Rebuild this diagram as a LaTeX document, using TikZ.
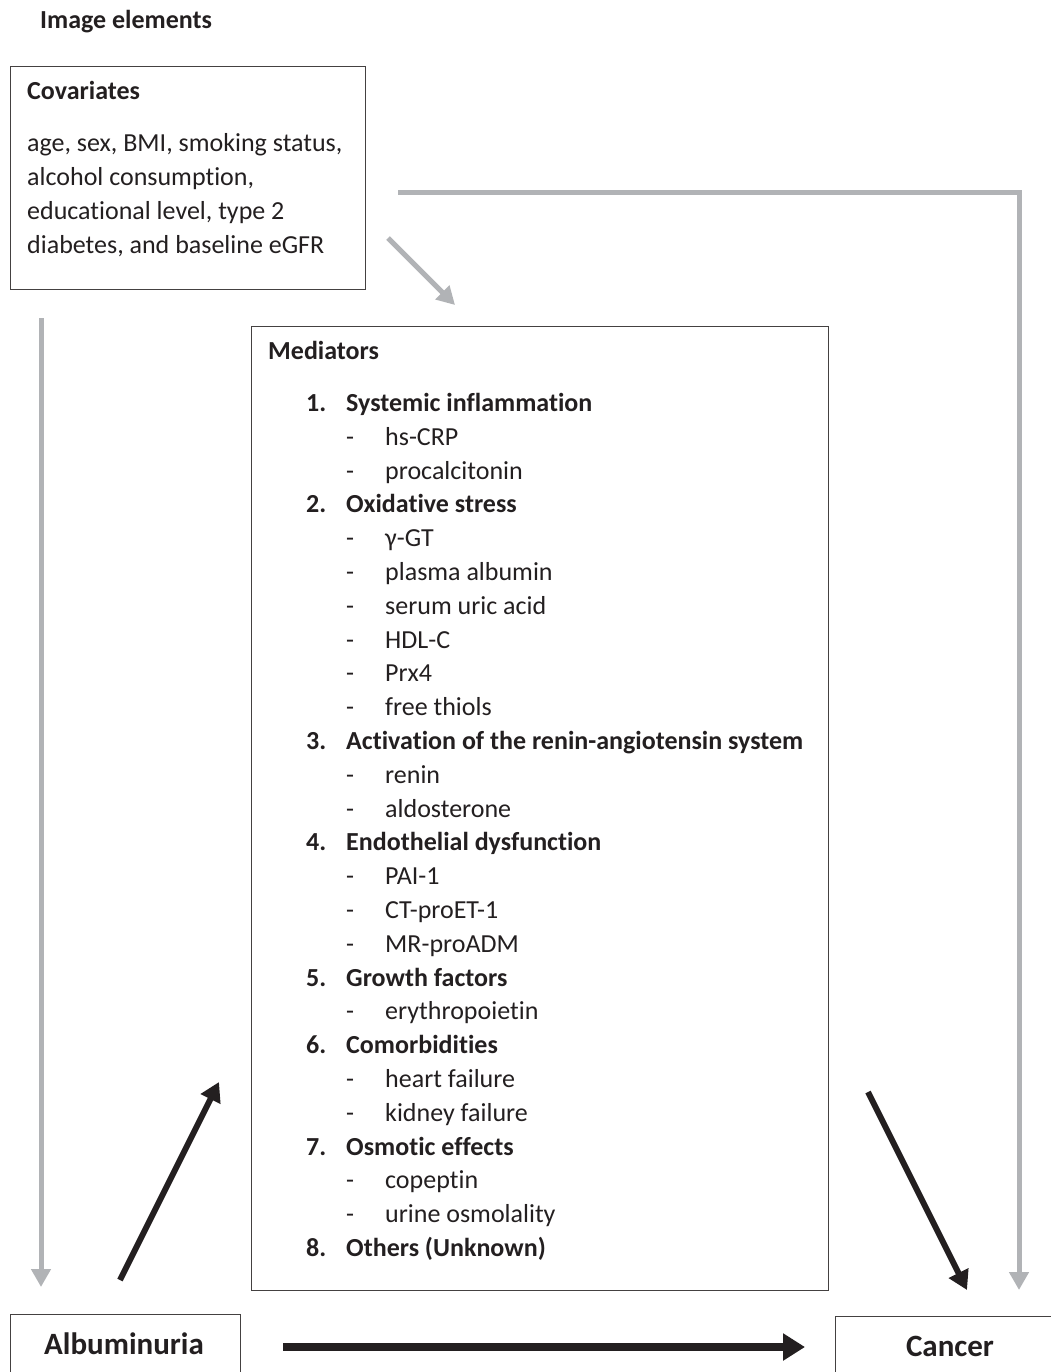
\documentclass[tikz,border=0pt]{standalone}
\usepackage{fontspec}
\setmainfont{Carlito}[Ligatures={NoCommon}]
\usetikzlibrary{arrows.meta,positioning}
\definecolor{arrowgray}{HTML}{B1B3B6}
\definecolor{arrowblack}{HTML}{231F20}
\tikzset{
   panel/.style={draw=arrowblack!85, line width=1.4pt, inner sep=0pt, anchor=north west},
   plain/.style={font=\fontsize{26}{34}\selectfont, text=arrowblack, inner sep=0pt, anchor=west,
                 text height=21pt, text depth=4pt},
   heading/.style={plain, font=\fontsize{26}{34}\selectfont\bfseries},
   bigword/.style={font=\fontsize{31}{36}\selectfont\bfseries, text=arrowblack, inner sep=0pt},
   grayarrow/.style={draw=arrowgray, line width=5pt, -{Triangle[length=18pt,width=19pt]}},
   blackarrow/.style={draw=arrowblack, line width=6pt, -{Triangle[length=19pt,width=21pt]}}
}
\begin{document}
\begin{tikzpicture}[x=1pt,y=-1pt]
  \useasboundingbox (0,0) rectangle (1051,1372);
  \clip (0,0) rectangle (1051,1372);
  \node[heading] (title) at (40,20) {Image elements};

  % covariates
  \node[panel, minimum width=355pt, minimum height=223pt] (cov) at (10,66) {};
  \node[heading] (cov-head) at (27,91) {Covariates};
  \node[plain] (cov-l1) at (27,143) {age, sex, BMI, smoking status,};
  \node[plain] (cov-l2) at (27,177) {alcohol consumption,};
  \node[plain] (cov-l3) at (27,211) {educational level, type 2};
  \node[plain] (cov-l4) at (27,245) {diabetes, and baseline eGFR};

  % mediators
  \node[panel, minimum width=577pt, minimum height=964pt] (med) at (251,326) {};
  \node[heading] (med-head) at (268,351) {Mediators};
  \foreach \row/\num/\txt in {0/1/Systemic inflammation, 3/2/Oxidative stress,
      10/3/Activation of the renin-angiotensin system, 13/4/Endothelial dysfunction,
      17/5/Growth factors, 19/6/Comorbidities, 22/7/Osmotic effects, 25/8/Others (Unknown)}
  {
    \node[heading] (med-n\num) at (306,403+33.8*\row) {\num.};
    \node[heading] (med-h\num) at (346,403+33.8*\row) {\txt};
  }
  \foreach \row/\txt in {1/hs-CRP, 2/procalcitonin, 4/γ-GT, 5/plasma albumin, 6/serum uric acid,
      7/HDL-C, 8/Prx4, 9/free thiols, 11/renin, 12/aldosterone, 14/PAI-1, 15/CT-proET-1,
      16/MR-proADM, 18/erythropoietin, 20/heart failure, 21/kidney failure, 23/copeptin,
      24/urine osmolality}
  {
    \node[plain] (med-d\row) at (346,403+33.8*\row) {-};
    \node[plain] (med-s\row) at (385,403+33.8*\row) {\txt};
  }

  % exposure and outcome
  \node[panel, minimum width=230pt, minimum height=90pt] (alb) at (10,1314) {};
  \node[bigword] (alb-text) at (124,1344) {Albuminuria};
  \node[panel, minimum width=260pt, minimum height=90pt] (can) at (835,1316) {};
  \node[bigword] (can-text) at (950,1346) {Cancer};

  % connectors
  \coordinate (cov-out) at (398,193);
  \coordinate (corner) at (1019,193);
  \coordinate (can-in) at (1019,1290);
  \coordinate (cov-diag) at (388,238);
  \coordinate (med-in) at (455,305);
  \coordinate (cov-down) at (41,318);
  \coordinate (alb-in) at (41,1287);
  \coordinate (alb-out) at (120,1280);
  \coordinate (med-left) at (219,1082);
  \coordinate (med-right) at (868,1092);
  \coordinate (can-top) at (967,1290);
  \coordinate (alb-right) at (283,1347);
  \coordinate (can-left) at (805,1347);
  \draw[grayarrow] (cov-out) -- (corner) -- (can-in);
  \draw[grayarrow] (cov-diag) -- (med-in);
  \draw[grayarrow] (cov-down) -- (alb-in);
  \draw[blackarrow] (alb-out) -- (med-left);
  \draw[blackarrow] (med-right) -- (can-top);
  \draw[blackarrow, line width=8pt, -{Triangle[length=22pt,width=26pt]}] (alb-right) -- (can-left);
\end{tikzpicture}
\end{document}
